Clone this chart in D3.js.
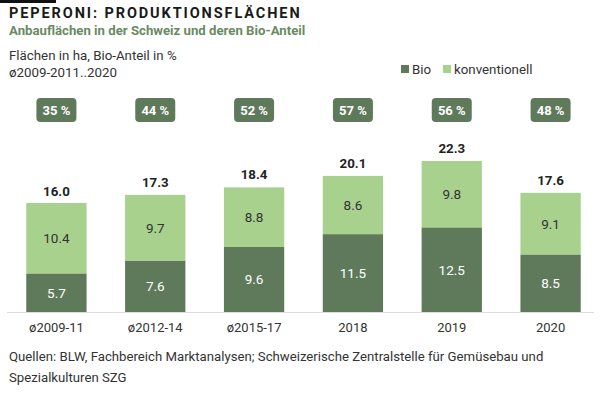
<!DOCTYPE html>
<html>
<head>
<meta charset="utf-8">
<script src="https://cdn.jsdelivr.net/npm/d3@7"></script>
<style>
  body { margin: 0; background: #fff; }
  text { font-family: Roboto, "Noto Sans", sans-serif; }
</style>
</head>
<body>
<script>
var categories = ["ø2009-11", "ø2012-14", "ø2015-17", "2018", "2019", "2020"];
var bio = [5.7, 7.6, 9.6, 11.5, 12.5, 8.5];
var konventionell = [10.4, 9.7, 8.8, 8.6, 9.8, 9.1];
var totals = [16.0, 17.3, 18.4, 20.1, 22.3, 17.6];
var bioShare = [35, 44, 52, 57, 56, 48];

var dark = "#5e7a5b", light = "#a7d18c";

var svg = d3.select("body").append("svg")
    .attr("width", 600)
    .attr("height", 394);

// small black bar at top
svg.append("rect").attr("x", 0).attr("y", 0).attr("width", 56).attr("height", 3).attr("fill", "#111");

svg.append("text")
    .attr("x", 9).attr("y", 18)
    .attr("font-size", 14.5).attr("font-weight", "bold")
    .attr("letter-spacing", "1.9px")
    .attr("fill", "#1a1a1a")
    .text("PEPERONI: PRODUKTIONSFLÄCHEN");

svg.append("text")
    .attr("x", 9).attr("y", 35)
    .attr("font-size", 13.2).attr("font-weight", "bold")
    .attr("fill", "#6a8a63")
    .text("Anbauflächen in der Schweiz und deren Bio-Anteil");

svg.append("text")
    .attr("x", 9).attr("y", 60)
    .attr("font-size", 13.3).attr("fill", "#333")
    .text("Flächen in ha, Bio-Anteil in %");

svg.append("text")
    .attr("x", 9).attr("y", 77)
    .attr("font-size", 13.3).attr("fill", "#333")
    .text("ø2009-2011..2020");

// legend
var legend = [{name: "Bio", color: dark, x: 401}, {name: "konventionell", color: light, x: 443}];
var lg = svg.selectAll("g.legend")
    .data(legend)
    .enter().append("g")
    .attr("class", "legend");
lg.append("rect")
    .attr("x", function(d) { return d.x; })
    .attr("y", 65)
    .attr("width", 8).attr("height", 8)
    .attr("fill", function(d) { return d.color; });
lg.append("text")
    .attr("x", function(d) { return d.x + 11; })
    .attr("y", 74)
    .attr("font-size", 13.3).attr("fill", "#333")
    .text(function(d) { return d.name; });

var x = d3.scaleBand()
    .domain(categories)
    .range([7, 600])
    .paddingInner(0.39)
    .paddingOuter(0.195);

var y = d3.scaleLinear()
    .domain([0, 22.3])
    .range([312, 161]);

var rows = categories.map(function(c, i) {
    return {cat: c, bio: bio[i], konv: konventionell[i], total: totals[i], share: bioShare[i]};
});

var series = d3.stack().keys(["bio", "konv"])(rows);
var colors = {bio: dark, konv: light};

var layers = svg.selectAll("g.layer")
    .data(series)
    .enter().append("g")
    .attr("class", "layer")
    .attr("fill", function(d) { return colors[d.key]; });

layers.selectAll("rect")
    .data(function(d) { return d; })
    .enter().append("rect")
    .attr("x", function(d) { return x(d.data.cat); })
    .attr("width", x.bandwidth())
    .attr("y", function(d) { return y(d[1]); })
    .attr("height", function(d) { return y(d[0]) - y(d[1]); });

layers.selectAll("text")
    .data(function(d) { return d.map(function(v) { v.key = d.key; return v; }); })
    .enter().append("text")
    .attr("x", function(d) { return x(d.data.cat) + x.bandwidth() / 2; })
    .attr("y", function(d) { return (y(d[0]) + y(d[1])) / 2 + 5; })
    .attr("text-anchor", "middle")
    .attr("font-size", 13.5)
    .attr("fill", function(d) { return d.key === "bio" ? "#fff" : "#333"; })
    .text(function(d) { return d3.format(".1f")(d.data[d.key]); });

// totals
svg.selectAll("text.total")
    .data(rows)
    .enter().append("text")
    .attr("class", "total")
    .attr("x", function(d) { return x(d.cat) + x.bandwidth() / 2; })
    .attr("y", function(d) { return y(d.total) - 8; })
    .attr("text-anchor", "middle")
    .attr("font-size", 13.3).attr("font-weight", "bold")
    .attr("fill", "#222")
    .text(function(d) { return d3.format(".1f")(d.total); });

// share badges
var badges = svg.selectAll("g.badge")
    .data(rows)
    .enter().append("g")
    .attr("class", "badge")
    .attr("transform", function(d) { return "translate(" + (x(d.cat) + x.bandwidth() / 2) + ",110)"; });
badges.append("rect")
    .attr("x", -20).attr("y", -12)
    .attr("width", 40).attr("height", 24)
    .attr("rx", 4)
    .attr("fill", dark);
badges.append("text")
    .attr("y", 5)
    .attr("text-anchor", "middle")
    .attr("font-size", 13).attr("font-weight", "bold")
    .attr("fill", "#fff")
    .text(function(d) { return d.share + " %"; });

// axis
svg.append("line")
    .attr("x1", 7).attr("x2", 594)
    .attr("y1", 312.5).attr("y2", 312.5)
    .attr("stroke", "#ddd").attr("stroke-width", 1);

var xAxis = svg.append("g")
    .attr("transform", "translate(0,313)")
    .call(d3.axisBottom(x).tickSize(0).tickPadding(10));
xAxis.select(".domain").remove();
xAxis.selectAll("text")
    .attr("font-size", 13)
    .attr("fill", "#333")
    .style("font-family", "Roboto, sans-serif");

svg.append("text")
    .attr("x", 9).attr("y", 361)
    .attr("font-size", 13.2).attr("fill", "#333")
    .text("Quellen: BLW, Fachbereich Marktanalysen; Schweizerische Zentralstelle für Gemüsebau und");
svg.append("text")
    .attr("x", 9).attr("y", 382)
    .attr("font-size", 13.2).attr("fill", "#333")
    .text("Spezialkulturen SZG");
</script>
</body>
</html>
